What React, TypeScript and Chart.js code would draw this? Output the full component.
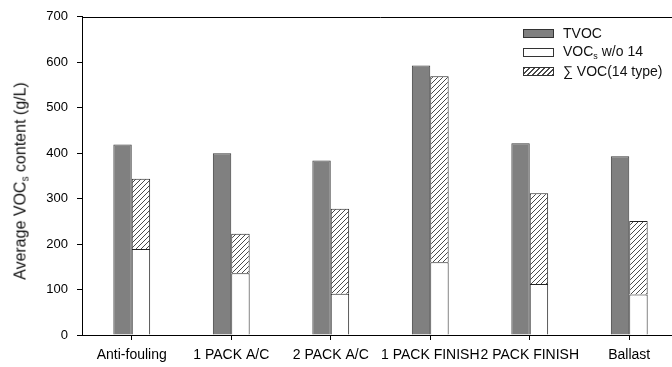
import React, { useEffect, useRef } from 'react';
import { Chart, registerables } from 'chart.js';

Chart.register(...registerables);

const categories = ['Anti-fouling', '1 PACK A/C', '2 PACK A/C', '1 PACK FINISH', '2 PACK FINISH', 'Ballast'];
const tvocValues = [419, 400, 384, 593, 422, 393];
const vocWo14Values = [189, 136, 91, 160, 112, 89];
const voc14Values = [155, 87, 187, 409, 200, 162];
const yMin = 0;
const yMax = 700;
const yStep = 100;

const FONT = '"Liberation Sans", Arial, Helvetica, sans-serif';

function makeHatch(): CanvasPattern | string {
  const s = 5;
  const c = document.createElement('canvas');
  c.width = s;
  c.height = s;
  const ctx = c.getContext('2d');
  if (!ctx) return '#ddd';
  ctx.fillStyle = '#ffffff';
  ctx.fillRect(0, 0, s, s);
  ctx.strokeStyle = '#4a4a4a';
  ctx.lineWidth = 1;
  ctx.beginPath();
  ctx.moveTo(0, s);
  ctx.lineTo(s, 0);
  ctx.moveTo(-1, 1);
  ctx.lineTo(1, -1);
  ctx.moveTo(s - 1, s + 1);
  ctx.lineTo(s + 1, s - 1);
  ctx.stroke();
  return ctx.createPattern(c, 'repeat') || '#ddd';
}

const framePlugin = {
  id: 'frame',
  afterDraw(chart: any) {
    const { ctx, chartArea: a } = chart;
    ctx.save();
    ctx.strokeStyle = '#000';
    ctx.lineWidth = 1;
    ctx.beginPath();
    ctx.moveTo(a.left, Math.round(a.top) + 0.5);
    ctx.lineTo(a.right, Math.round(a.top) + 0.5);
    ctx.moveTo(Math.round(a.right) + 0.5, a.top);
    ctx.lineTo(Math.round(a.right) + 0.5, a.bottom);
    ctx.stroke();
    ctx.restore();
  },
};

export default function App() {
  const ref = useRef<HTMLCanvasElement>(null);

  useEffect(() => {
    const canvas = ref.current;
    if (!canvas) return;
    const hatch = makeHatch();
    const chart = new Chart(canvas, {
      type: 'bar',
      data: {
        labels: categories,
        datasets: [
          {
            label: 'TVOC',
            data: tvocValues,
            backgroundColor: '#808080',
            borderColor: '#3a3a3a',
            borderWidth: 1,
            stack: 'a',
          },
          {
            label: 'VOCs w/o 14',
            data: vocWo14Values,
            backgroundColor: '#ffffff',
            borderColor: '#222',
            borderWidth: 1,
            stack: 'b',
          },
          {
            label: '∑ VOC(14 type)',
            data: voc14Values,
            backgroundColor: hatch as any,
            borderColor: '#222',
            borderWidth: 1,
            stack: 'b',
          },
        ],
      },
      options: {
        responsive: false,
        animation: false,
        devicePixelRatio: 1,
        layout: { padding: { top: 13, right: 21, left: 0, bottom: 0 } },
        datasets: { bar: { categoryPercentage: 0.37, barPercentage: 1 } },
        plugins: { legend: { display: false }, tooltip: { enabled: false } },
        scales: {
          x: {
            stacked: true,
            grid: {
              display: true,
              drawOnChartArea: false,
              drawTicks: true,
              tickLength: 5,
              color: '#000',
              offset: false,
            },
            border: { display: true, color: '#000', width: 1 },
            ticks: {
              color: '#000',
              font: { family: FONT, size: 14 },
              autoSkip: false,
              maxRotation: 0,
              minRotation: 0,
              padding: 7,
            },
            afterFit: (s: any) => {
              s.height = 32;
            },
          },
          y: {
            stacked: true,
            min: yMin,
            max: yMax,
            grid: {
              display: true,
              drawOnChartArea: false,
              drawTicks: true,
              tickLength: 5,
              color: '#000',
            },
            border: { display: true, color: '#000', width: 1 },
            ticks: {
              stepSize: yStep,
              color: '#000',
              font: { family: FONT, size: 13 },
              padding: 9,
            },
            afterFit: (s: any) => {
              s.width = 82;
            },
          },
        },
      },
      plugins: [framePlugin],
    });
    return () => chart.destroy();
  }, []);

  const rowStyle = (top: number): React.CSSProperties => ({
    position: 'absolute',
    left: 523,
    top,
    height: 18,
    display: 'flex',
    alignItems: 'center',
    whiteSpace: 'nowrap',
    fontFamily: FONT,
    fontSize: 14,
    color: '#111',
  });
  const boxStyle: React.CSSProperties = {
    width: 31,
    height: 9,
    boxSizing: 'border-box',
    border: '1px solid #333',
    marginRight: 9,
  };

  return (
    <div
      style={{
        position: 'absolute',
        left: 0,
        top: 0,
        width: 672,
        height: 367,
        overflow: 'hidden',
        background: '#fff',
      }}
    >
      <canvas ref={ref} width={700} height={367} style={{ display: 'block', width: 700, height: 367 }} />
      <div
        style={{
          position: 'absolute',
          left: 21,
          top: 181,
          transform: 'translate(-50%, -50%) rotate(-90deg)',
          whiteSpace: 'nowrap',
          fontFamily: FONT,
          fontSize: 16,
          color: '#111',
        }}
      >
        Average VOC<sub style={{ fontSize: 10, verticalAlign: -3 }}>s</sub> content (g/L)
      </div>
      <div style={rowStyle(24)}>
        <div style={{ ...boxStyle, background: '#808080' }} />
        <span>TVOC</span>
      </div>
      <div style={rowStyle(43)}>
        <div style={{ ...boxStyle, background: '#fff' }} />
        <span>
          VOC<sub style={{ fontSize: 9, verticalAlign: -3 }}>s</sub> w/o 14
        </span>
      </div>
      <div style={rowStyle(62)}>
        <div
          style={{
            ...boxStyle,
            background: 'repeating-linear-gradient(135deg, #4a4a4a 0px, #4a4a4a 1px, #fff 1px, #fff 3.5px)',
          }}
        />
        <span>∑ VOC(14 type)</span>
      </div>
    </div>
  );
}
